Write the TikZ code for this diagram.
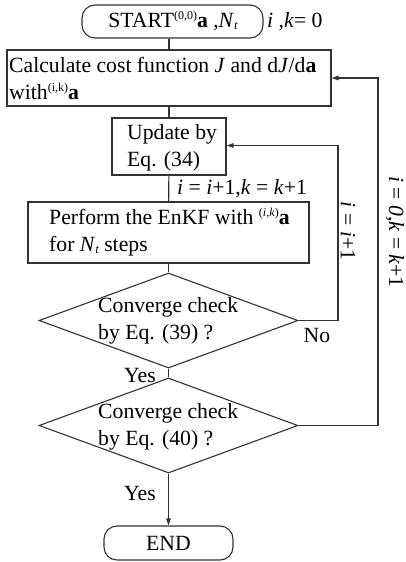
\documentclass[tikz,border=0pt]{standalone}
\usepackage{fontspec}
\setmainfont{Liberation Serif}
\usetikzlibrary{shapes.geometric,arrows.meta}
\newcommand{\Nt}{\textit{N}\raisebox{-2pt}{\fontsize{12.5}{12.5}\selectfont\itshape t}}
\newcommand{\ba}{\textbf{a}}
\newcommand{\sups}[1]{\raisebox{8pt}{\fontsize{12}{12}\selectfont #1}}
\begin{document}
\begin{tikzpicture}[x=1pt,y=-1pt,
  every node/.style={font=\fontsize{21.7}{27}\selectfont},
  ln/.style={draw=black!80,line width=1.1pt},
  arr/.style={ln,-{Triangle[length=7pt,width=4.5pt]}},
  box/.style={ln,rectangle,inner sep=0pt},
  term/.style={ln,rectangle,rounded corners=13pt,inner sep=0pt},
  dia/.style={ln,diamond,inner sep=0pt},
  txt/.style={inner sep=0pt,align=left},
]
\useasboundingbox (0,0) rectangle (405,562);
% shapes
\node[term,minimum width=181pt,minimum height=33pt] (start) at (172.5,21.5) {};
\node[box,minimum width=324pt,minimum height=56pt] (calc) at (169,78) {};
\node[box,minimum width=114pt,minimum height=57pt] (upd) at (169,146.5) {};
\node[box,minimum width=281pt,minimum height=61pt] (perf) at (168.5,232.5) {};
\node[dia,minimum width=259pt,minimum height=95pt] (d1) at (168.5,320.5) {};
\node[dia,minimum width=259pt,minimum height=95pt] (d2) at (168.5,425.5) {};
\node[term,minimum width=129pt,minimum height=34pt] (end) at (168.5,543) {};
% texts
\node[txt] (startt) at (173,21.5) {START\sups{(0,0)}\ba\ ,\Nt};
\node[txt,anchor=west] (ik0) at (267,22) {\textit{i} ,\textit{k}= 0};
\node[txt,anchor=west] (calct) at (9,78) {Calculate cost function \textit{J} and d\textit{J}/d\ba\\with\sups{(i,k)}\ba};
\node[txt,anchor=west] (updt) at (127,147.5) {Update by\\Eq. (34)};
\node[txt,anchor=west] (incr) at (177,189) {\textit{i} = \textit{i}+1,\textit{k} = \textit{k}+1};
\node[txt,anchor=west] (perft) at (49,232) {Perform the EnKF with \sups{(\textit{i},\textit{k})}\ba\\for \Nt\ steps};
\node[txt,anchor=west] (d1t) at (98,321) {Converge check\\by Eq. (39) ?};
\node[txt,anchor=west] (d2t) at (98,427) {Converge check\\by Eq. (40) ?};
\node[txt] (endt) at (end.center) {END};
\node[txt] (no) at (317,335) {No};
\node[txt,anchor=east] (yes1) at (156,375) {Yes};
\node[txt,anchor=east] (yes2) at (156,493) {Yes};
\node[txt,rotate=-90] (lab1) at (348,231) {\textit{i} = \textit{i}+1};
\node[txt,rotate=-90] (lab2) at (395,232) {\textit{i} = \textit{0},\textit{k} = \textit{k}+1};
% connectors
\draw[ln] (calc.north |- start.south) -- (calc.north);
\draw[ln] (calc) -- (upd);
\draw[ln] (upd) -- (perf);
\draw[ln] (perf) -- (d1);
\draw[ln] (d1) -- (d2);
\draw[arr] (d2) -- (end);
\draw[arr] (d1.east) -| (338,145.5) -- (upd.east |- 0,145.5);
\draw[arr] (d2.east) -| (378,78) -- (calc.east);
\end{tikzpicture}
\end{document}
